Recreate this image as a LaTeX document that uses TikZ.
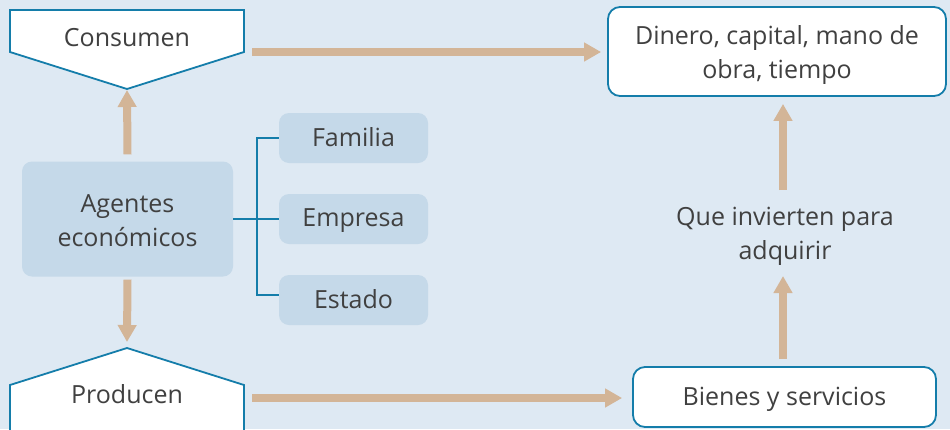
\documentclass[tikz,border=0pt]{standalone}
\usepackage{fontspec}
\setmainfont{Open Sans}
\usetikzlibrary{arrows.meta}
\definecolor{bg}{RGB}{222,233,243}
\definecolor{boxfill}{RGB}{197,217,233}
\definecolor{edge}{RGB}{20,125,170}
\definecolor{tan}{RGB}{211,181,151}
\definecolor{ink}{RGB}{64,64,64}
\begin{document}
\begin{tikzpicture}[x=1pt,y=-1pt,
  txt/.style={text=ink,font=\fontsize{25}{34}\selectfont,align=center,inner sep=0pt},
  pent/.style={draw=edge,line width=1.8pt,fill=white,line join=miter},
  softbox/.style={fill=boxfill,rounded corners=10pt},
  whitebox/.style={draw=edge,line width=1.8pt,fill=white,rounded corners=12pt},
  conn/.style={draw=edge,line width=2pt},
  arr/.style={draw=tan,line width=8pt,-{Triangle[width=18pt,length=17pt]}}]
\useasboundingbox (0,0) rectangle (950,429);
\clip (0,0) rectangle (950,429);
\fill[bg] (0,0) rectangle (950,429);

% pentagons
\draw[pent] (10,10) -- (244,10) -- (244,52) -- (127,89) -- (10,52) -- cycle;
\node[txt] (consumen) at (127,38) {Consumen};
\coordinate (ctip) at (127,89);
\coordinate (cright) at (244,52);

\draw[pent] (10,445) -- (10,385) -- (127,348) -- (244,385) -- (244,445) -- cycle;
\node[txt] (producen) at (127,394) {Producen};
\coordinate (ptip) at (127,348);
\coordinate (pright) at (244,398);

% agents
\node[softbox,minimum width=211pt,minimum height=115pt] (agentes) at (127.5,219) {};
\node[txt] (agentestext) at (127.5,221) {Agentes\\económicos};
\node[softbox,minimum width=149pt,minimum height=50pt] (familia) at (353.5,138) {};
\node[txt] (familiatext) at (353.5,137) {Familia};
\node[softbox,minimum width=149pt,minimum height=50pt] (empresa) at (353.5,219) {};
\node[txt] (empresatext) at (353.5,221) {Empresa};
\node[softbox,minimum width=149pt,minimum height=50pt] (estado) at (353.5,300) {};
\node[txt] (estadotext) at (353.5,299) {Estado};
\coordinate (bus) at (257,0);
\draw[conn] (agentes.east) -- (empresa.west);
\draw[conn] (familia.west) -- (familia.west -| bus) -- ([yshift=5pt]estado.west -| bus) -- ([yshift=5pt]estado.west);

% right side
\node[whitebox,minimum width=338pt,minimum height=89pt] (dinero) at (777,51.5) {};
\node[txt] (dinerotext) at (777,55) {Dinero, capital, mano de\\obra, tiempo};
\node[txt] (que) at (785,236) {Que invierten para\\adquirir};
\node[whitebox,minimum width=303pt,minimum height=60pt] (bienes) at (784.5,397) {};
\node[txt] (bienestext) at (784.5,399) {Bienes y servicios};
\coordinate (qtop) at (783,190);
\coordinate (qbot) at (783,276);

% arrows
\draw[arr] ([yshift=7pt]agentes.north) -- ([yshift=-1pt]ctip);
\draw[arr] ([yshift=-3pt]agentes.south) -- ([yshift=6pt]ptip);
\draw[arr] ([xshift=8pt]cright) -- ([xshift=-6pt]cright -| dinero.west);
\draw[arr] ([xshift=8pt]pright) -- ([xshift=-10pt]pright -| bienes.west);
\draw[arr] (qtop) -- ([yshift=-7pt]qtop |- dinero.south);
\draw[arr] ([yshift=7pt]qbot |- bienes.north) -- (qbot);
\end{tikzpicture}
\end{document}
